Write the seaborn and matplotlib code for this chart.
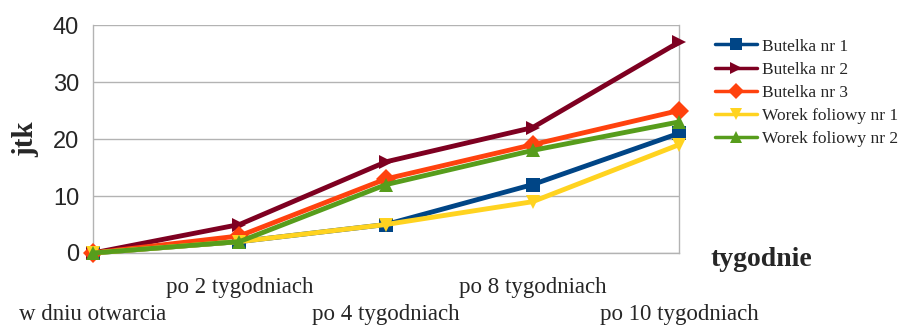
import pandas as pd
import seaborn as sns
import matplotlib.pyplot as plt

# time points (x axis categories)
okresy = ["w dniu otwarcia", "po 2 tygodniach", "po 4 tygodniach", "po 8 tygodniach", "po 10 tygodniach"]

# series
butelka_1 = [0, 2, 5, 12, 21]
butelka_2 = [0, 5, 16, 22, 37]
butelka_3 = [0, 3, 13, 19, 25]
worek_1 = [0, 2, 5, 9, 19]
worek_2 = [0, 2, 12, 18, 23]

serie = {
    "Butelka nr 1": butelka_1,
    "Butelka nr 2": butelka_2,
    "Butelka nr 3": butelka_3,
    "Worek foliowy nr 1": worek_1,
    "Worek foliowy nr 2": worek_2,
}
kolory = ["#004586", "#7E0021", "#FF420E", "#FFD320", "#579D1C"]
znaczniki = ["s", ">", "D", "v", "^"]

# long format for seaborn
rows = []
for name, vals in serie.items():
    for i, v in enumerate(vals):
        rows.append({"okres": i, "jtk": v, "seria": name})
df = pd.DataFrame(rows)

sns.set_style("white")
plt.rcParams["font.family"] = ["Liberation Serif", "DejaVu Serif"]

fig = plt.figure(figsize=(9.09, 3.27), dpi=100)
ax = fig.add_axes([0.1023, 0.2263, 0.6447, 0.6972])

sns.lineplot(data=df, x="okres", y="jtk", hue="seria", style="seria",
             palette=kolory, markers=znaczniki, dashes=False,
             linewidth=3.5, markersize=10, markeredgewidth=0,
             clip_on=False, ax=ax, zorder=3)

ax.set_xlim(0, 4)
ax.set_ylim(0, 40)
ax.set_yticks([0, 10, 20, 30, 40])
ax.grid(axis="y", color="#b3b3b3", linewidth=1)
ax.spines["top"].set_visible(False)
for s in ["left", "right", "bottom"]:
    ax.spines[s].set_color("#b3b3b3")
    ax.spines[s].set_linewidth(1)

ax.set_xticks(range(len(okresy)))
ax.set_xticklabels(okresy, fontsize=16.5)
ax.tick_params(axis="both", direction="out", length=7, color="#b3b3b3", width=1)
# staggered category labels
for i, tick in enumerate(ax.xaxis.get_major_ticks()):
    tick.set_pad(30 if i % 2 == 0 else 10)
for lab in ax.get_yticklabels():
    lab.set_fontfamily("Liberation Sans")
    lab.set_fontsize(17)
ax.tick_params(axis="y", pad=3)

ax.set_xlabel("")
ax.set_ylabel("jtk", fontsize=21, fontweight="bold", labelpad=10)
fig.text(0.838, 0.205, "tygodnie", fontsize=20, fontweight="bold", ha="center", va="center")

leg = ax.legend(loc="upper left", bbox_to_anchor=(1.035, 1.01), frameon=False,
                fontsize=12.5, handlelength=2.4, labelspacing=0.4, handletextpad=0.3)
for h in leg.legend_handles:
    h.set_linewidth(2.5)
    h.set_markersize(8)

fig.savefig("out.png", dpi=100)
